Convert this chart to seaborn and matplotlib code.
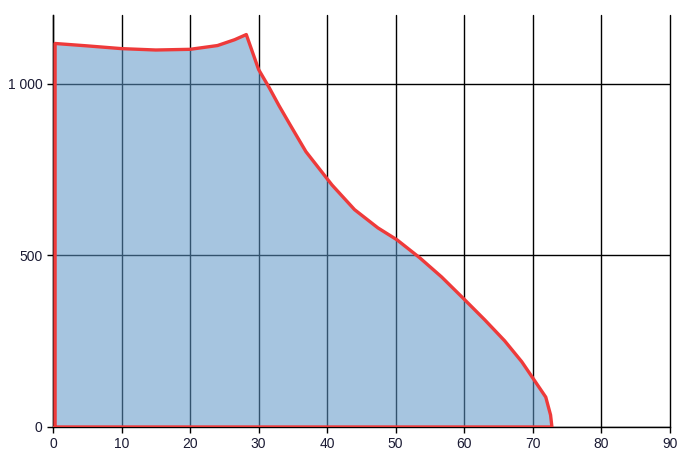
import matplotlib
matplotlib.use("Agg")
import matplotlib.pyplot as plt
import seaborn as sns
import pandas as pd

# outline of the filled area (x, y)
x_vals = [0.3, 0.3, 5, 10, 15, 20, 24, 26.5, 28.2, 30, 31.5, 33, 34.6, 36.9, 40.7, 44,
          47.4, 50.2, 53.5, 56.7, 59.8, 63, 65.9, 68.4, 70, 71.9, 72.6, 72.8, 0.3]
y_vals = [0, 1117, 1110, 1102, 1098, 1100, 1111, 1128, 1143, 1041, 990, 935, 880, 802, 705, 633,
          580, 545, 493, 437, 376, 312, 251, 190, 143, 87, 35, 0, 0]

x_ticks = [0, 10, 20, 30, 40, 50, 60, 70, 80, 90]
y_ticks = [0, 500, 1000]
y_labels = ["0", "500", "1 000"]

df = pd.DataFrame({"x": x_vals, "y": y_vals})

sns.set_style("white")
plt.rcParams["font.family"] = ["Liberation Sans", "DejaVu Sans"]

fig = plt.figure(figsize=(6.8, 4.54), dpi=100)
ax = fig.add_axes([0.078, 0.0595, 0.907, 0.9075])

ax.set_axisbelow(True)
ax.grid(True, color="black", linewidth=1.0)

ax.fill(df["x"], df["y"], color=(93/255, 150/255, 199/255), alpha=0.55, lw=0, zorder=2)
sns.lineplot(data=df, x="x", y="y", sort=False, estimator=None, color="#ee3a3a",
             linewidth=2.4, ax=ax, zorder=3)

ax.set_xlim(0, 90)
ax.set_ylim(0, 1200)
ax.set_xticks(x_ticks)
ax.set_yticks(y_ticks)
ax.set_yticklabels(y_labels)
ax.set_xlabel("")
ax.set_ylabel("")

# keep the last vertical grid line at x=90 fully visible
for gl in ax.get_xgridlines():
    gl.set_clip_on(False)

for s in ["top", "right"]:
    ax.spines[s].set_visible(False)
for s in ["left", "bottom"]:
    ax.spines[s].set_color("black")
    ax.spines[s].set_linewidth(1.0)

ax.tick_params(axis="both", direction="out", length=4, width=1, color="black",
               labelsize=10, labelcolor="#1a1a33", bottom=True, left=True)

fig.savefig("out.png", dpi=100)
